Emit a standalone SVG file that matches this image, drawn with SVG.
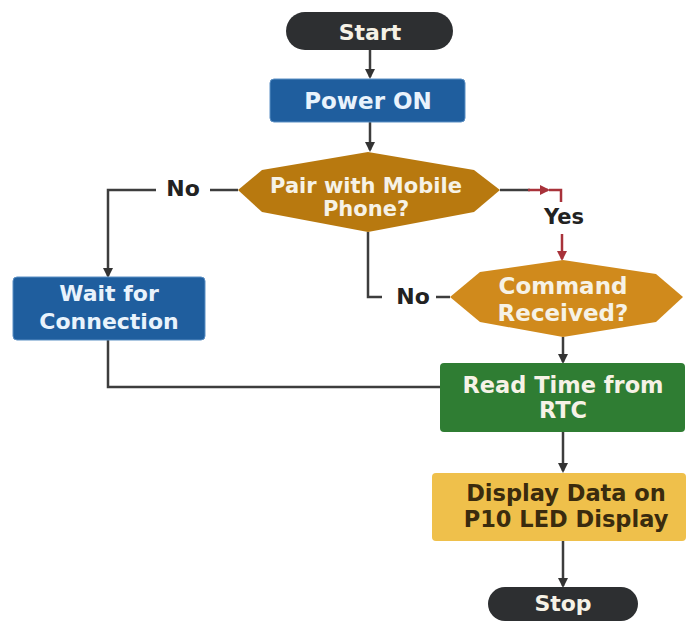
<svg xmlns="http://www.w3.org/2000/svg" width="688" height="621" viewBox="0 0 688 621">
<defs>
<marker id="ah" markerWidth="10" markerHeight="10" refX="8" refY="5" orient="auto" markerUnits="userSpaceOnUse">
<path d="M0,0 L10,5 L0,10 Z" fill="#333"/>
</marker>
<marker id="ahr" markerWidth="10" markerHeight="10" refX="8" refY="5" orient="auto" markerUnits="userSpaceOnUse">
<path d="M0,0 L10,5 L0,10 Z" fill="#a8323a"/>
</marker>
</defs>
<style>
.t{font-family:"DejaVu Sans","Noto Sans",sans-serif;font-weight:bold;font-size:22px;text-anchor:middle}
.w{fill:#f6f2e6}
.lb{fill:#e9f3fc}
.d{fill:#3a2b0e}
.k{fill:#222}
.c{fill:none;stroke:#3d3d3d;stroke-width:2.5}
.r{fill:none;stroke:#a8323a;stroke-width:2.5}
</style>
<rect width="688" height="621" fill="#fff"/>
<g id="connectors">
<line class="c" x1="370" y1="50" x2="370" y2="77" marker-end="url(#ah)"/>
<line class="c" x1="370" y1="122" x2="370" y2="150" marker-end="url(#ah)"/>
<polyline class="c" points="238,190 210,190"/>
<polyline class="c" points="156,190 108,190 108,276" marker-end="url(#ah)"/>
<polyline class="c" points="108,340 108,387 440,387"/>
<line class="c" x1="500" y1="190" x2="530" y2="190"/>
<line class="r" x1="528" y1="190" x2="548" y2="190" marker-end="url(#ahr)"/>
<polyline class="r" points="549,190 561,190 561,202"/>
<line class="r" x1="562" y1="234" x2="562" y2="259" marker-end="url(#ahr)"/>
<polyline class="c" points="368,232 368,297 382,297"/>
<line class="c" x1="436" y1="297" x2="450" y2="297"/>
<line class="c" x1="563" y1="337" x2="563" y2="362" marker-end="url(#ah)"/>
<line class="c" x1="563" y1="432" x2="563" y2="471" marker-end="url(#ah)"/>
<line class="c" x1="563" y1="541" x2="563" y2="586" marker-end="url(#ah)"/>
<text class="t k" x="183" y="196">No</text>
<text class="t k" x="413" y="304">No</text>
<text class="t k" x="564" y="224" style="font-size:21px">Yes</text>
</g>
<g id="start">
<rect x="286" y="12" width="167" height="38" rx="19" fill="#2d2f31"/>
<text class="t w" x="370" y="40">Start</text>
</g>
<g id="power">
<rect x="270" y="79" width="195" height="43" rx="4" fill="#1f5e9e" stroke="#5b8fc4" stroke-width="1"/>
<text class="t lb" x="368" y="109" style="font-size:23px">Power ON</text>
</g>
<g id="pair">
<polygon points="238,190 262,170 368,152 474,170 500,190 474,212 368,232 262,212" fill="#b8790f"/>
<text class="t w" x="366" y="193" style="font-size:21px">Pair with Mobile</text>
<text class="t w" x="366" y="216" style="font-size:21px">Phone?</text>
</g>
<g id="wait">
<rect x="13" y="277" width="192" height="63" rx="4" fill="#1f5e9e" stroke="#5b8fc4" stroke-width="1"/>
<text class="t lb" x="109" y="301">Wait for</text>
<text class="t lb" x="109" y="329">Connection</text>
</g>
<g id="command">
<polygon points="450,297 480,272 563,260 656,274 683,297 656,322 563,337 480,322" fill="#d08a1c"/>
<text class="t w" x="563" y="294" style="font-size:23px">Command</text>
<text class="t w" x="563" y="321" style="font-size:23px">Received?</text>
</g>
<g id="read">
<rect x="440" y="363" width="245" height="69" rx="4" fill="#2f7d33"/>
<text class="t w" x="563" y="393" style="font-size:22.5px">Read Time from</text>
<text class="t w" x="563" y="418" style="font-size:22.5px">RTC</text>
</g>
<g id="display">
<rect x="432" y="473" width="254" height="68" rx="4" fill="#efc04b"/>
<text class="t d" x="566" y="501" style="font-size:22.5px">Display Data on</text>
<text class="t d" x="566" y="527" style="font-size:22.5px">P10 LED Display</text>
</g>
<g id="stop">
<rect x="488" y="587" width="150" height="34" rx="17" fill="#2d2f31"/>
<text class="t w" x="563" y="611">Stop</text>
</g>
</svg>
